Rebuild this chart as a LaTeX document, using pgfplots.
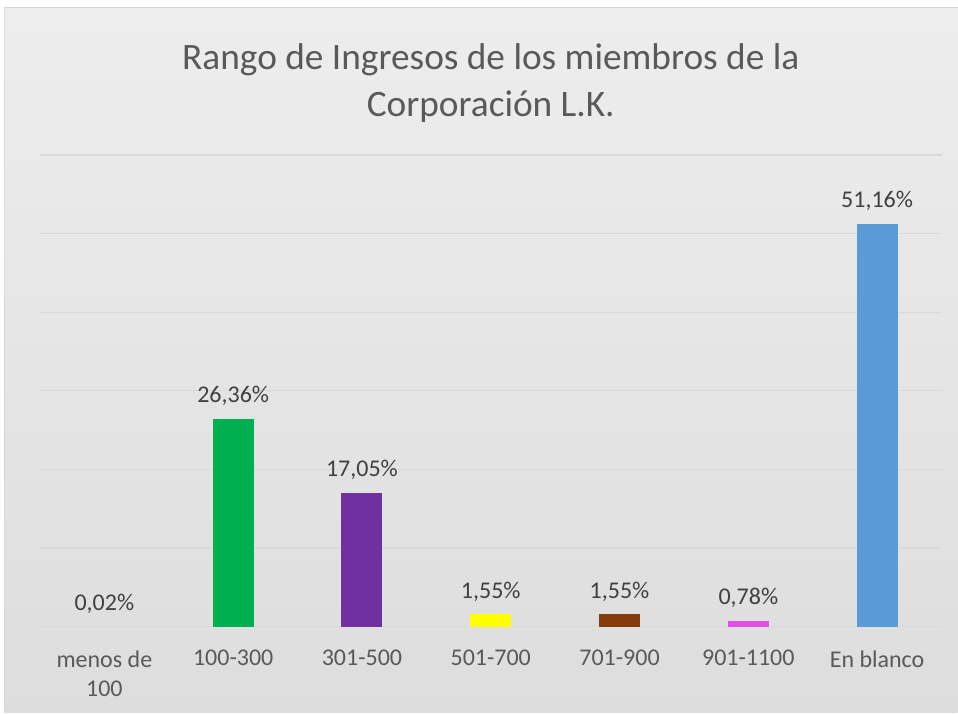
\documentclass[border=0pt]{standalone}
\usepackage{pgfplots}
\pgfplotsset{compat=1.18}
\usepackage{fontspec}
\setmainfont{Carlito}
\definecolor{gridc}{HTML}{D9D9D9}
\definecolor{tickc}{HTML}{595959}
\definecolor{labc}{HTML}{404040}
\definecolor{cGreen}{HTML}{00B050}
\definecolor{cPurple}{HTML}{7030A0}
\definecolor{cYellow}{HTML}{FFFF00}
\definecolor{cBrown}{HTML}{843C0C}
\definecolor{cPink}{HTML}{E34FE0}
\definecolor{cBlue}{HTML}{5B9BD5}
\definecolor{bgA}{HTML}{E0E0E0}
\definecolor{bgB}{HTML}{D9D9D9}
\definecolor{bgC}{HTML}{F5F5F5}
\pgfdeclareverticalshading{bgshade}{100bp}{
  color(0bp)=(bgA);
  color(12bp)=(bgB);
  color(100bp)=(bgC)}
\begin{document}
\begin{tikzpicture}
\fill[white] (0pt,0pt) rectangle (718.5pt,534.75pt);
\shade[shading=bgshade] (3.75pt,0pt) rectangle (718.5pt,528.75pt);
\draw[gridc, line width=0.75pt] (3.75pt,0pt) -- (3.75pt,528.75pt) -- (718.5pt,528.75pt);
\node[anchor=base, text=tickc, font=\fontsize{28}{34}\selectfont] at (368.25pt,482.5pt) {Rango de Ingresos de los miembros de la};
\node[anchor=base, text=tickc, font=\fontsize{28}{34}\selectfont] at (368.25pt,447.5pt) {Corporación L.K.};
\begin{axis}[
  at={(30pt,64.5pt)}, anchor=south west,
  scale only axis, width=676.5pt, height=354pt,
  xmin=-0.5, xmax=6.5, ymin=0, ymax=60,
  axis line style={draw=none},
  ytick={0,10,...,60}, yticklabels={},
  ymajorgrids, grid style={gridc, line width=0.9pt},
  major tick length=0pt,
  xtick={0,...,6},
  xticklabels={{menos de\\100},{100-300},{301-500},{501-700},{701-900},{901-1100},{En blanco}},
  xticklabel style={align=center, text=tickc, font=\fontsize{18}{21.75}\selectfont, yshift=-14.25pt},
  ybar, bar width=30.75pt, bar shift=0pt,
  nodes near coords={\pgfmathprintnumber{\pgfplotspointmeta}\%},
  every node near coord/.append style={text=labc, font=\fontsize{18}{21.75}\selectfont, yshift=6.5pt},
  /pgf/number format/.cd, use comma, fixed, fixed zerofill, precision=2, assume math mode=true,
]
\addplot[fill=cGreen, draw=none] coordinates {(0,0.02)};
\addplot[fill=cGreen, draw=none] coordinates {(1,26.36)};
\addplot[fill=cPurple, draw=none] coordinates {(2,17.05)};
\addplot[fill=cYellow, draw=none] coordinates {(3,1.55)};
\addplot[fill=cBrown, draw=none] coordinates {(4,1.55)};
\addplot[fill=cPink, draw=none] coordinates {(5,0.78)};
\addplot[fill=cBlue, draw=none] coordinates {(6,51.16)};
\end{axis}
\end{tikzpicture}
\end{document}
